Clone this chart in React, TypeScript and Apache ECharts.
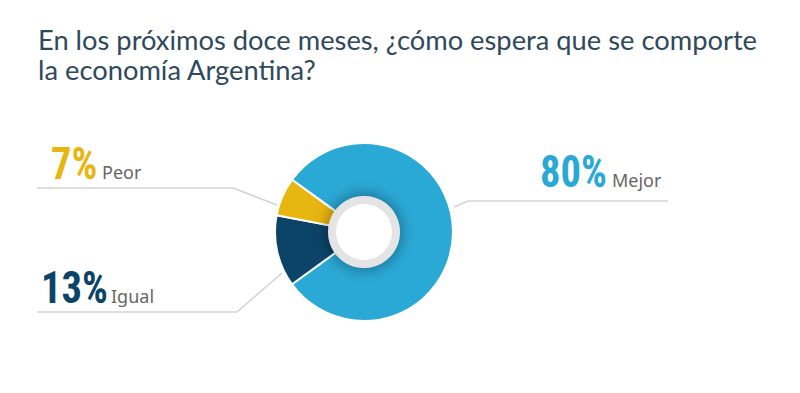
import React, { useEffect, useRef } from "react";
import * as echarts from "echarts";

const TITLE = "En los próximos doce meses, ¿cómo espera que se comporte\nla economía Argentina?";
const CATEGORIES = ["Mejor", "Igual", "Peor"];
const VALUES = [80, 13, 7];
const COLORS = ["#2ba9d6", "#0b4467", "#e8b611"];

// annotation layout: percentage left x, text baseline, name left x, leader polyline
const LABEL_LAYOUT: Record<string, { pctX: number; base: number; nameX: number; line: number[][] }> = {
  Mejor: { pctX: 540, base: 187, nameX: 612, line: [[454, 207], [468, 201], [668, 201]] },
  Peor: { pctX: 51, base: 179, nameX: 102, line: [[277, 205], [233, 188], [37, 188]] },
  Igual: { pctX: 41, base: 303, nameX: 111, line: [[282, 273], [237, 312], [37, 312]] },
};

const PCT_SIZE = 45;
const NAME_SIZE = 18;

export default function App() {
  const ref = useRef<HTMLDivElement>(null);
  useEffect(() => {
    if (!ref.current) return;
    const chart = echarts.init(ref.current, null, { renderer: "svg" });
    const cx = 364;
    const cy = 232;
    const pctTexts = CATEGORIES.map((name, i) => {
      const L = LABEL_LAYOUT[name];
      return {
        type: "text",
        x: L.pctX,
        y: L.base - 0.342 * PCT_SIZE,
        scaleX: 0.9,
        z: 20,
        style: {
          text: `${VALUES[i]}%`,
          x: 0,
          y: 0,
          align: "left",
          verticalAlign: "middle",
          fontFamily: "Roboto Condensed",
          fontWeight: "bold",
          fontSize: PCT_SIZE,
          fill: COLORS[i],
        },
      };
    });
    chart.setOption({
      animation: false,
      backgroundColor: "#ffffff",
      title: {
        text: TITLE,
        left: 33,
        top: 19,
        textStyle: {
          fontFamily: "Lato",
          fontWeight: "normal",
          fontSize: 27.3,
          lineHeight: 30,
          color: "#30495c",
        },
      },
      series: [
        {
          type: "pie",
          center: [cx, cy],
          radius: [30, 89],
          startAngle: 144,
          clockwise: true,
          avoidLabelOverlap: false,
          itemStyle: { borderColor: "#ffffff", borderWidth: 2 },
          data: CATEGORIES.map((name, i) => ({
            name,
            value: VALUES[i],
            itemStyle: { color: COLORS[i] },
          })),
          label: {
            show: true,
            formatter: "{b}",
            fontFamily: "Noto Sans",
            fontSize: NAME_SIZE,
            color: "#666666",
          },
          labelLine: {
            show: true,
            length: 20,
            length2: 20,
            lineStyle: { color: "#d3d3d3", width: 1.5 },
          },
          labelLayout: (params: any) => {
            const L = LABEL_LAYOUT[CATEGORIES[params.dataIndex]];
            return {
              x: L.nameX,
              y: L.base - 0.388 * NAME_SIZE,
              align: "left",
              verticalAlign: "middle",
              labelLinePoints: L.line,
            };
          },
          emphasis: { disabled: true },
        },
      ],
      graphic: [
        {
          type: "circle",
          shape: { cx, cy, r: 32 },
          style: {
            fill: "#ffffff",
            stroke: "#e4e4e4",
            lineWidth: 8,
            shadowBlur: 16,
            shadowColor: "rgba(0,0,0,0.45)",
          },
          z: 10,
        },
        ...pctTexts,
      ],
    });
    return () => chart.dispose();
  }, []);
  return <div ref={ref} style={{ position: "absolute", left: 0, top: 0, width: 800, height: 393 }} />;
}
